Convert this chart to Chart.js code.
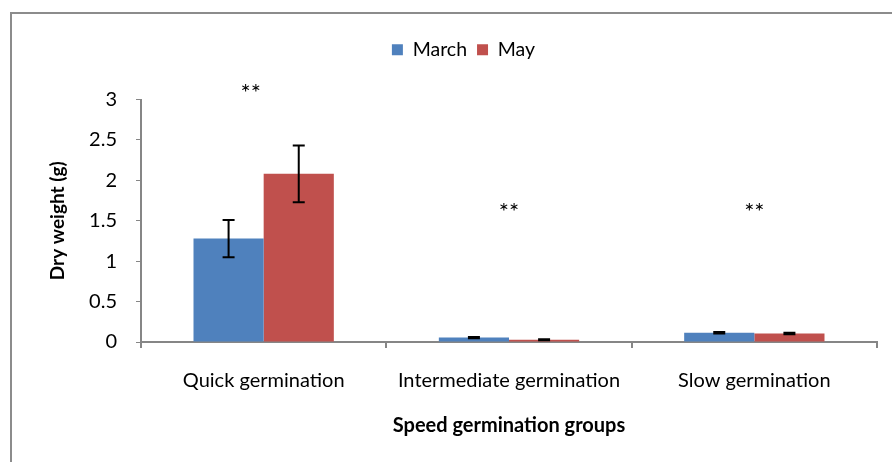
<!DOCTYPE html>
<html>
<head>
<meta charset="utf-8">
<script src="https://cdn.jsdelivr.net/npm/chart.js@4.4.1/dist/chart.umd.min.js"></script>
<style>
  html, body { margin: 0; padding: 0; background: #fff; overflow: hidden; }
  #wrap { position: relative; width: 892px; height: 462px; }
  #frame {
    position: absolute; left: 10px; top: 12px; width: 900px; height: 470px;
    border: 2px solid #8c8c8c; box-sizing: border-box;
  }
  canvas { position: absolute; left: 0; top: 0; }
</style>
</head>
<body>
<div id="wrap">
  <div id="frame"></div>
  <canvas id="canvas" width="892" height="462"></canvas>
</div>
<script>
const groups = ['Quick germination', 'Intermediate germination', 'Slow germination'];
const march = [1.28, 0.055, 0.115];
const may = [2.08, 0.028, 0.105];
const marchErr = [0.23, 0.008, 0.01];
const mayErr = [0.35, 0.005, 0.01];
const marks = ['**', '**', '**'];
const markLevels = [3.12, 1.64, 1.64];
const yTicks = [0, 0.5, 1, 1.5, 2, 2.5, 3];

const FONT = 'Lato, "Open Sans", sans-serif';
const AXIS = '#868686';

// gap under the legend row, and center the legend over the plot area
const legendTweak = {
  id: 'legendTweak',
  beforeInit(chart) {
    const legend = chart.legend;
    const fit = legend.fit;
    const draw = legend.draw;
    legend.fit = function () {
      fit.call(this);
      this.height += 30;
    };
    legend.draw = function () {
      this.ctx.save();
      this.ctx.translate(25, 0);
      draw.call(this);
      this.ctx.restore();
    };
  }
};

// whiskers with caps on top of every bar
const errorBars = {
  id: 'errorBars',
  afterDatasetsDraw(chart) {
    const {ctx, scales: {y}} = chart;
    const errs = [marchErr, mayErr];
    ctx.save();
    ctx.strokeStyle = '#000';
    ctx.lineWidth = 2;
    chart.data.datasets.forEach((ds, i) => {
      chart.getDatasetMeta(i).data.forEach((bar, j) => {
        const v = ds.data[j];
        const hi = y.getPixelForValue(v + errs[i][j]);
        const lo = y.getPixelForValue(v - errs[i][j]);
        ctx.beginPath();
        ctx.moveTo(bar.x, hi); ctx.lineTo(bar.x, lo);
        ctx.moveTo(bar.x - 6, hi); ctx.lineTo(bar.x + 6, hi);
        ctx.moveTo(bar.x - 6, lo); ctx.lineTo(bar.x + 6, lo);
        ctx.stroke();
      });
    });
    ctx.restore();
  }
};

// significance stars over each group
const stars = {
  id: 'stars',
  afterDraw(chart) {
    const {ctx, scales: {x, y}} = chart;
    ctx.save();
    ctx.fillStyle = '#000';
    ctx.font = '24px ' + FONT;
    ctx.textAlign = 'center';
    ctx.textBaseline = 'middle';
    marks.forEach((m, i) => {
      ctx.fillText(m, x.getPixelForValue(i) - (i === 0 ? 13 : 0), y.getPixelForValue(markLevels[i]) + 3);
    });
    ctx.restore();
  }
};

new Chart(document.getElementById('canvas'), {
  type: 'bar',
  data: {
    labels: groups,
    datasets: [
      {label: 'March', data: march, backgroundColor: '#4F81BD', borderWidth: 0},
      {label: 'May', data: may, backgroundColor: '#C0504D', borderWidth: 0},
    ],
  },
  options: {
    responsive: false,
    animation: false,
    events: [],
    layout: {padding: {top: 30, right: 15, left: 0, bottom: 0}},
    categoryPercentage: 0.572,
    barPercentage: 1.0,
    plugins: {
      tooltip: {enabled: false},
      legend: {
        position: 'top',
        labels: {
          boxWidth: 11, boxHeight: 11, padding: 10,
          color: '#000', font: {family: FONT, size: 19.5},
        },
      },
    },
    scales: {
      x: {
        afterFit(scale) { scale.height = 120; },
        border: {color: AXIS, width: 2},
        grid: {display: true, drawOnChartArea: false, drawTicks: true, tickLength: 6, color: AXIS, lineWidth: 2, offset: true},
        ticks: {color: '#000', padding: 21, font: {family: FONT, size: 20}, maxRotation: 0},
        title: {
          display: true, text: 'Speed germination groups', color: '#000',
          font: {family: FONT, size: 20, weight: 'bold'}, padding: {top: 20, bottom: 24},
        },
      },
      y: {
        min: 0, max: 3,
        afterFit(scale) { scale.width = 141; },
        afterBuildTicks(scale) { scale.ticks = yTicks.map(v => ({value: v})); },
        border: {color: AXIS, width: 2},
        grid: {display: true, drawOnChartArea: false, drawTicks: true, tickLength: 5, color: AXIS, lineWidth: 1},
        ticks: {color: '#000', padding: 19, font: {family: FONT, size: 20}, callback: v => String(v)},
        title: {
          display: true, text: 'Dry weight (g)', color: '#000',
          font: {family: FONT, size: 19, weight: 'bold'}, padding: {top: 46, bottom: 0},
        },
      },
    },
  },
  plugins: [legendTweak, errorBars, stars],
});
</script>
</body>
</html>
